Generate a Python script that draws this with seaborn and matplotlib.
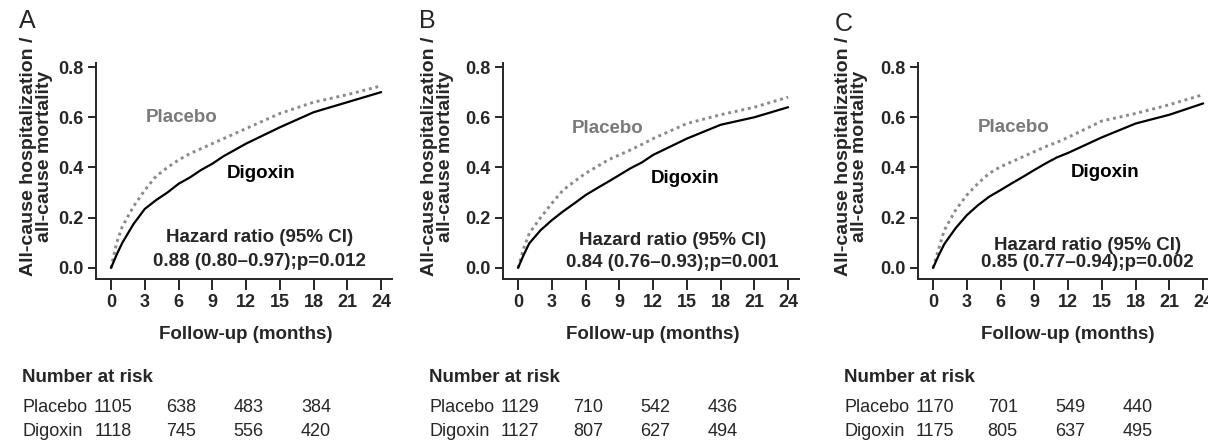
import numpy as np
import pandas as pd
import matplotlib
matplotlib.use('Agg')
import matplotlib.pyplot as plt
import matplotlib.transforms as mtransforms
import seaborn as sns

# follow-up time points (months)
months = [0, 0.5, 1, 2, 3, 4, 5, 6, 7, 8, 9, 10, 11, 12, 15, 18, 21, 24]

# panel A
placebo_a = [0, 0.10, 0.165, 0.245, 0.31, 0.365, 0.40, 0.43, 0.455, 0.475, 0.495, 0.515, 0.535, 0.555, 0.615, 0.66, 0.69, 0.725]
digoxin_a = [0, 0.053, 0.10, 0.175, 0.235, 0.27, 0.30, 0.335, 0.36, 0.39, 0.415, 0.445, 0.47, 0.495, 0.56, 0.62, 0.66, 0.70]
# panel B
placebo_b = [0, 0.078, 0.138, 0.20, 0.257, 0.31, 0.344, 0.377, 0.403, 0.43, 0.45, 0.47, 0.492, 0.515, 0.575, 0.61, 0.64, 0.68]
digoxin_b = [0, 0.052, 0.098, 0.15, 0.19, 0.225, 0.257, 0.29, 0.317, 0.343, 0.37, 0.397, 0.42, 0.45, 0.515, 0.57, 0.60, 0.64]
# panel C
placebo_c = [0, 0.075, 0.15, 0.23, 0.29, 0.337, 0.377, 0.403, 0.423, 0.443, 0.463, 0.483, 0.50, 0.52, 0.585, 0.615, 0.65, 0.69]
digoxin_c = [0, 0.05, 0.095, 0.158, 0.21, 0.25, 0.284, 0.31, 0.337, 0.363, 0.39, 0.416, 0.44, 0.458, 0.52, 0.575, 0.61, 0.655]

# number at risk
risk_months = [0, 6, 12, 18]
risk_placebo = [[1105, 638, 483, 384], [1129, 710, 542, 436], [1170, 701, 549, 440]]
risk_digoxin = [[1118, 745, 556, 420], [1127, 807, 627, 494], [1175, 805, 637, 495]]

panel_letters = ['A', 'B', 'C']
hr_values = ['0.88 (0.80\u20130.97);p=0.012', '0.84 (0.76\u20130.93);p=0.001', '0.85 (0.77\u20130.94);p=0.002']
x_ticks = [0, 3, 6, 9, 12, 15, 18, 21, 24]
y_ticks = [0.0, 0.2, 0.4, 0.6, 0.8]

placebo_all = [placebo_a, placebo_b, placebo_c]
digoxin_all = [digoxin_a, digoxin_b, digoxin_c]

sns.set_theme(style='ticks')
plt.rcParams['font.family'] = ['Liberation Sans', 'DejaVu Sans']
plt.rcParams['axes.linewidth'] = 1.4

W, H = 1208, 442
fig = plt.figure(figsize=(W / 100, H / 100), dpi=100)
fig.patch.set_facecolor('white')

# layout (pixels)
left_px = [96.4, 503.4, 918.4]
letter_pos = [(27, 21), (427, 21), (844, 24)]
ylab_x = [-0.147, -0.167, -0.170]
label_pos = [((6.3, 0.60), (13.3, 0.378), (13.2, 0.12), (13.2, 0.025)),
             ((8.0, 0.557), (14.8, 0.358), (13.7, 0.11), (13.7, 0.02)),
             ((7.2, 0.56), (15.3, 0.38), (13.7, 0.09), (13.7, 0.02))]
ax_w, ax_top, ax_bot = 296, 62, 279

for i in range(3):
    ax = fig.add_axes([left_px[i] / W, (H - ax_bot) / H, ax_w / W, (ax_bot - ax_top) / H])
    ax.set_facecolor('white')
    df = pd.DataFrame({'month': months, 'placebo': placebo_all[i], 'digoxin': digoxin_all[i]})
    sns.lineplot(data=df, x='month', y='placebo', ax=ax, color='#8a8a8a', lw=2.1,
                 linestyle=(0, (1, 1.3)))
    sns.lineplot(data=df, x='month', y='digoxin', ax=ax, color='black', lw=1.6)

    ax.set_xlim(-1.3, 25)
    ax.set_ylim(-0.044, 0.82)
    ax.set_xticks(x_ticks)
    ax.set_yticks(y_ticks)
    ax.set_yticklabels(['%.1f' % v for v in y_ticks])
    ax.tick_params(axis='x', length=8, width=1.4, pad=3, labelsize=13)
    ax.tick_params(axis='y', length=6, width=1.4, pad=3, labelsize=13)
    for lab in ax.get_xticklabels() + ax.get_yticklabels():
        lab.set_fontweight('bold')
    sns.despine(ax=ax)
    ax.spines['left'].set_bounds(-0.044, 0.815)

    ax.set_xlabel('Follow-up (months)', fontsize=13.5, fontweight='bold')
    ax.xaxis.set_label_coords((12 + 1.3) / 26.3, -0.215)
    ax.set_ylabel('All-cause hospitalization /\nall-cause mortality', fontsize=14,
                  fontweight='bold', linespacing=0.95)
    ax.yaxis.set_label_coords(ylab_x[i], 0.565)

    p_pos, d_pos, h_pos, v_pos = label_pos[i]
    ax.text(*p_pos, 'Placebo', color='#7a7a7a', fontsize=13.5, fontweight='bold', ha='center', va='center')
    ax.text(*d_pos, 'Digoxin', color='black', fontsize=13.5, fontweight='bold', ha='center', va='center')
    ax.text(*h_pos, 'Hazard ratio (95% CI)', fontsize=13.5, fontweight='bold', ha='center', va='center')
    ax.text(*v_pos, hr_values[i], fontsize=13.5, fontweight='bold', ha='center', va='center')

    fig.text(letter_pos[i][0] / W, 1 - letter_pos[i][1] / H, panel_letters[i], fontsize=18,
             ha='center', va='center')

    # number at risk table
    trans = mtransforms.blended_transform_factory(ax.transData, fig.transFigure)
    ax.text(-7.9, 1 - 377 / H, 'Number at risk', transform=trans, fontsize=13.5,
            fontweight='bold', ha='left', va='center', clip_on=False)
    ax.text(-7.9, 1 - 407 / H, 'Placebo', transform=trans, fontsize=13,
            ha='left', va='center', clip_on=False)
    ax.text(-7.9, 1 - 432 / H, 'Digoxin', transform=trans, fontsize=13,
            ha='left', va='center', clip_on=False)
    for m, n_p, n_d in zip(risk_months, risk_placebo[i], risk_digoxin[i]):
        ax.text(m + 0.2, 1 - 407 / H, str(n_p), transform=trans, fontsize=13,
                ha='center', va='center', clip_on=False)
        ax.text(m + 0.2, 1 - 432 / H, str(n_d), transform=trans, fontsize=13,
                ha='center', va='center', clip_on=False)

fig.savefig('out.png', dpi=100)
